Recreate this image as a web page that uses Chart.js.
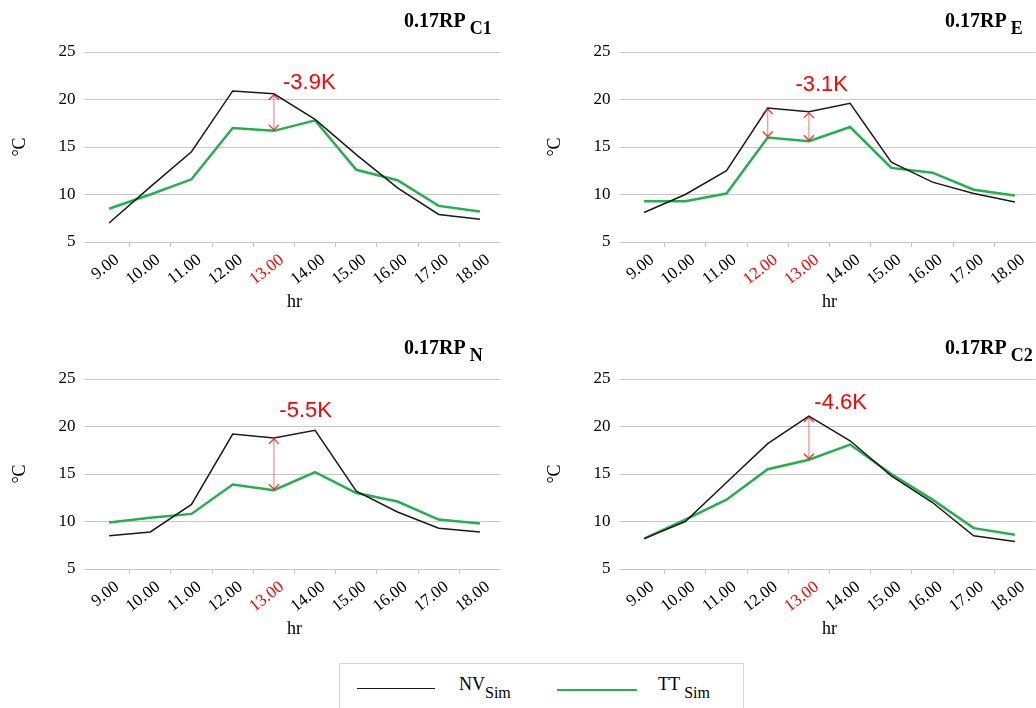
<!DOCTYPE html>
<html>
<head>
<meta charset="utf-8">
<script src="https://cdn.jsdelivr.net/npm/chart.js@4.4.0/dist/chart.umd.min.js"></script>
<style>
  html, body { margin:0; padding:0; background:#fff; width:1036px; height:708px; overflow:hidden; position:relative; font-family:"Liberation Serif", "Times New Roman", serif; }
  canvas.panel { position:absolute; }
  #legend { position:absolute; left:339px; top:663px; width:405px; height:60px; border:1px solid #d9d9d9; box-sizing:border-box; }
  #legend .ln { position:absolute; height:0; }
  #legend .lt { position:absolute; font-size:18px; line-height:18px; color:#000; white-space:nowrap; }
  #legend .lt .sb { font-size:16px; position:relative; top:8px; }
</style>
</head>
<body>
<canvas id="pC1" class="panel" width="518" height="330" style="left:0px;top:0px"></canvas>
<canvas id="pE"  class="panel" width="518" height="330" style="left:535px;top:0px"></canvas>
<canvas id="pN"  class="panel" width="518" height="330" style="left:0px;top:327px"></canvas>
<canvas id="pC2" class="panel" width="518" height="330" style="left:535px;top:327px"></canvas>

<div id="legend">
  <span class="ln" style="left:17px;top:24px;width:78px;border-top:1.5px solid #1a1a1a"></span>
  <span class="lt" style="left:119px;top:11px">NV<span class="sb">Sim</span></span>
  <span class="ln" style="left:217px;top:25px;width:80px;border-top:2.5px solid #22b14c"></span>
  <span class="lt" style="left:318px;top:11px">TT <span class="sb">Sim</span></span>
</div>

<script>
// Hourly categories
const hours = ['9.00', '10.00', '11.00', '12.00', '13.00', '14.00', '15.00', '16.00', '17.00', '18.00'];

// Simulated temperatures (°C): NV = natural ventilation, TT = treated
const nvC1 = [7.0, 10.8, 14.5, 20.9, 20.6, 17.9, 14.2, 10.7, 7.9, 7.4];
const ttC1 = [8.5, 10.0, 11.6, 17.0, 16.7, 17.8, 12.6, 11.5, 8.8, 8.2];

const nvE = [8.1, 10.0, 12.5, 19.1, 18.7, 19.6, 13.4, 11.3, 10.1, 9.2];
const ttE = [9.3, 9.3, 10.1, 16.0, 15.6, 17.1, 12.8, 12.3, 10.5, 9.9];

const nvN = [8.5, 8.9, 11.8, 19.2, 18.8, 19.6, 13.2, 11.0, 9.3, 8.9];
const ttN = [9.9, 10.4, 10.8, 13.9, 13.3, 15.2, 13.0, 12.1, 10.2, 9.8];

const nvC2 = [8.2, 10.0, 14.1, 18.2, 21.1, 18.5, 14.8, 12.0, 8.5, 7.9];
const ttC2 = [8.2, 10.2, 12.3, 15.5, 16.5, 18.1, 15.0, 12.3, 9.3, 8.6];

// Y axis range and step
const yMin = 5, yMax = 25, yStep = 5;

// Panel descriptions: subscript of the title, series, highlighted hours, difference note
const panels = [
  { canvas: 'pC1', sub: 'C1', nv: nvC1, tt: ttC1, marked: [4],    note: '-3.9K', noteAt: [4.86, 21.1], titleX: 404 },
  { canvas: 'pE',  sub: 'E',  nv: nvE,  tt: ttE,  marked: [3, 4], note: '-3.1K', noteAt: [4.31, 20.9], titleX: 410 },
  { canvas: 'pN',  sub: 'N',  nv: nvN,  tt: ttN,  marked: [4],    note: '-5.5K', noteAt: [4.77, 21.0], titleX: 404 },
  { canvas: 'pC2', sub: 'C2', nv: nvC2, tt: ttC2, marked: [4],    note: '-4.6K', noteAt: [4.77, 21.8], titleX: 410 }
];

const SERIF = '"Liberation Serif", "Times New Roman", serif';
const SANS = '"Liberation Sans", Arial, sans-serif';
const RED = '#ff0000';

// Draws the panel title, the double-headed difference arrows and the note
const decorations = {
  id: 'decorations',
  afterDatasetsDraw(chart, args, opts) {
    const { ctx } = chart;
    const xs = chart.scales.x, ys = chart.scales.y;
    ctx.save();

    // title: 0.17RP with subscript
    ctx.fillStyle = '#000';
    ctx.textAlign = 'left';
    ctx.textBaseline = 'alphabetic';
    ctx.font = 'bold 20px ' + SERIF;
    ctx.fillText('0.17RP', opts.titleX, 27);
    const w = ctx.measureText('0.17RP').width;
    ctx.font = 'bold 18px ' + SERIF;
    ctx.fillText(opts.sub, opts.titleX + w + 4, 34);

    // arrows between the two series at the marked hours
    opts.marked.forEach(i => {
      const x = xs.getPixelForValue(i);
      const yTop = ys.getPixelForValue(opts.nv[i]);
      const yBot = ys.getPixelForValue(opts.tt[i]);
      ctx.strokeStyle = 'rgba(255,40,40,0.55)';
      ctx.lineWidth = 1.2;
      ctx.beginPath();
      ctx.moveTo(x, yTop + 1);
      ctx.lineTo(x, yBot - 1);
      ctx.stroke();
      ctx.strokeStyle = 'rgba(255,20,20,0.9)';
      ctx.lineWidth = 1.3;
      ctx.beginPath();
      ctx.moveTo(x - 5, yTop + 6); ctx.lineTo(x, yTop + 1); ctx.lineTo(x + 5, yTop + 6);
      ctx.moveTo(x - 5, yBot - 6); ctx.lineTo(x, yBot - 1); ctx.lineTo(x + 5, yBot - 6);
      ctx.stroke();
    });

    // difference note
    ctx.fillStyle = RED;
    ctx.textAlign = 'center';
    ctx.font = '22px ' + SANS;
    ctx.fillText(opts.note, xs.getPixelForValue(opts.noteAt[0]), ys.getPixelForValue(opts.noteAt[1]));

    ctx.restore();
  }
};

panels.forEach(p => {
  new Chart(document.getElementById(p.canvas), {
    type: 'line',
    data: {
      labels: hours,
      datasets: [
        { label: 'NV Sim', data: p.nv, borderColor: '#1a1a1a', borderWidth: 1.5, pointRadius: 0, tension: 0, fill: false },
        { label: 'TT Sim', data: p.tt, borderColor: '#22b14c', borderWidth: 2.5, pointRadius: 0, tension: 0, fill: false }
      ]
    },
    options: {
      responsive: false,
      animation: false,
      devicePixelRatio: 1,
      layout: { padding: { top: 52, right: 17.5, left: 0, bottom: 0 } },
      plugins: {
        legend: { display: false },
        tooltip: { enabled: false },
        decorations: { titleX: p.titleX, sub: p.sub, nv: p.nv, tt: p.tt, marked: p.marked, note: p.note, noteAt: p.noteAt }
      },
      scales: {
        x: {
          offset: true,
          border: { display: false },
          grid: {
            offset: true,
            drawOnChartArea: false,
            tickLength: 5,
            color: c => (c.type !== 'tick' || c.index === 0) ? 'rgba(0,0,0,0)' : '#c8c8c8'
          },
          ticks: {
            autoSkip: false,
            maxRotation: 38,
            minRotation: 38,
            padding: 3,
            labelOffset: 8,
            font: { family: SERIF, size: 17 },
            color: c => p.marked.includes(c.index) ? RED : '#000'
          },
          title: { display: true, text: 'hr', color: '#000', font: { family: SERIF, size: 18 }, padding: { top: 0, bottom: 17 } },
          afterFit: s => { s.height = 88; }
        },
        y: {
          min: yMin,
          max: yMax,
          border: { display: false },
          grid: { color: '#c8c8c8', tickLength: 4, lineWidth: 1 },
          ticks: { stepSize: yStep, padding: 9, color: '#000', font: { family: SERIF, size: 17 } },
          title: { display: true, text: '°C', color: '#000', font: { family: SERIF, size: 18 }, padding: { top: 9, bottom: 0 } },
          afterFit: s => { s.width = 88.5; }
        }
      }
    },
    plugins: [decorations]
  });
});
</script>
</body>
</html>
